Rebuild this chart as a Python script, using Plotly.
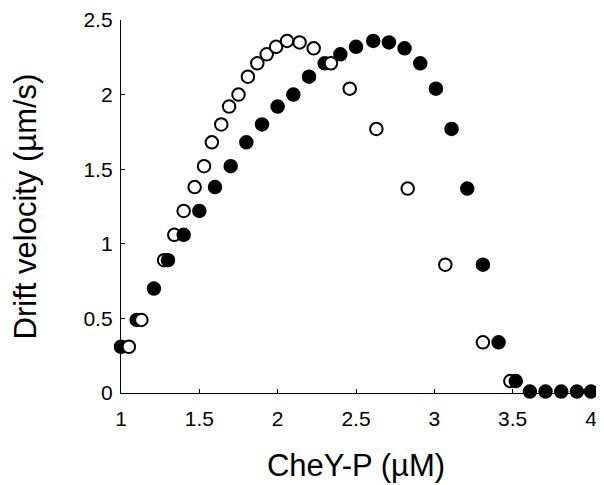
import plotly.graph_objects as go

# Filled circles
filled_x = [1.00, 1.10, 1.21, 1.30, 1.40, 1.50, 1.60, 1.70, 1.80, 1.90, 2.00,
            2.10, 2.20, 2.30, 2.40, 2.50, 2.61, 2.71, 2.81, 2.91, 3.01, 3.11,
            3.21, 3.31, 3.41, 3.52, 3.61, 3.71, 3.81, 3.91, 4.00]
filled_y = [0.31, 0.49, 0.70, 0.89, 1.06, 1.22, 1.38, 1.52, 1.68, 1.80, 1.92,
            2.00, 2.12, 2.21, 2.27, 2.32, 2.36, 2.35, 2.31, 2.21, 2.04, 1.77,
            1.37, 0.86, 0.34, 0.08, 0.01, 0.01, 0.01, 0.01, 0.01]

# Open circles
open_x = [1.05, 1.13, 1.275, 1.34, 1.40, 1.47, 1.53, 1.58, 1.64, 1.69, 1.75,
          1.81, 1.87, 1.93, 1.99, 2.06, 2.14, 2.23, 2.34, 2.46, 2.63, 2.83,
          3.07, 3.31, 3.485]
open_y = [0.31, 0.49, 0.89, 1.06, 1.22, 1.38, 1.52, 1.68, 1.80, 1.92, 2.00,
          2.12, 2.21, 2.27, 2.32, 2.36, 2.35, 2.31, 2.21, 2.04, 1.77, 1.37,
          0.86, 0.34, 0.08]

x_ticks = [1, 1.5, 2, 2.5, 3, 3.5, 4]
x_labels = ["1", "1.5", "2", "2.5", "3", "3.5", "4"]
y_ticks = [0, 0.5, 1, 1.5, 2, 2.5]
y_labels = ["0", "0.5", "1", "1.5", "2", "2.5"]

# combine, drawn in x order so the right-hand marker overlaps
pts = [(x, y, "black") for x, y in zip(filled_x, filled_y)] + \
      [(x, y, "white") for x, y in zip(open_x, open_y)]
pts.sort(key=lambda p: p[0])

fig = go.Figure()
# overlay axes that only carry the inward tick marks
fig.add_trace(go.Scatter(x=[], y=[], xaxis="x2", yaxis="y2", mode="markers",
                         showlegend=False, hoverinfo="skip"))
fig.add_trace(go.Scatter(
    x=[p[0] for p in pts], y=[p[1] for p in pts], mode="markers",
    marker=dict(size=12.5, color=[p[2] for p in pts],
                line=dict(color="black", width=2)),
    cliponaxis=False, showlegend=False, hoverinfo="x+y"))

font = "Liberation Sans, Arial, sans-serif"
# page body adds an 8px offset, so the figure is 8px smaller and margins shifted
fig.update_layout(
    width=596, height=477,
    margin=dict(l=113, r=13, t=12, b=92, autoexpand=False),
    paper_bgcolor="white", plot_bgcolor="white",
    font=dict(family=font, color="black"),
    xaxis=dict(
        range=[1, 4], tickvals=x_ticks, ticktext=x_labels, automargin=False,
        showgrid=False, zeroline=False, showline=True, linecolor="black", linewidth=1.3,
        ticks="outside", ticklen=7, tickcolor="rgba(0,0,0,0)",
        tickfont=dict(size=21, family=font),
        title=dict(text="CheY-P (µM)", font=dict(size=31, family=font), standoff=24),
    ),
    yaxis=dict(
        range=[0, 2.5], tickvals=y_ticks, ticktext=y_labels, automargin=False,
        showgrid=False, zeroline=False, showline=True, linecolor="black", linewidth=1.3,
        ticks="outside", ticklen=3, tickcolor="rgba(0,0,0,0)",
        tickfont=dict(size=21, family=font),
        title=dict(text="Drift velocity (µm/s)", font=dict(size=31, family=font), standoff=40),
    ),
    xaxis2=dict(
        overlaying="x", anchor="y2", side="bottom", range=[1, 4], tickvals=x_ticks,
        showticklabels=False, showgrid=False, zeroline=False, showline=False,
        ticks="inside", ticklen=4, tickcolor="black", tickwidth=1.3, automargin=False,
    ),
    yaxis2=dict(
        overlaying="y", anchor="x2", side="left", range=[0, 2.5], tickvals=y_ticks,
        showticklabels=False, showgrid=False, zeroline=False, showline=False,
        ticks="inside", ticklen=4, tickcolor="black", tickwidth=1.3, automargin=False,
    ),
)

fig.write_html("out.html")
